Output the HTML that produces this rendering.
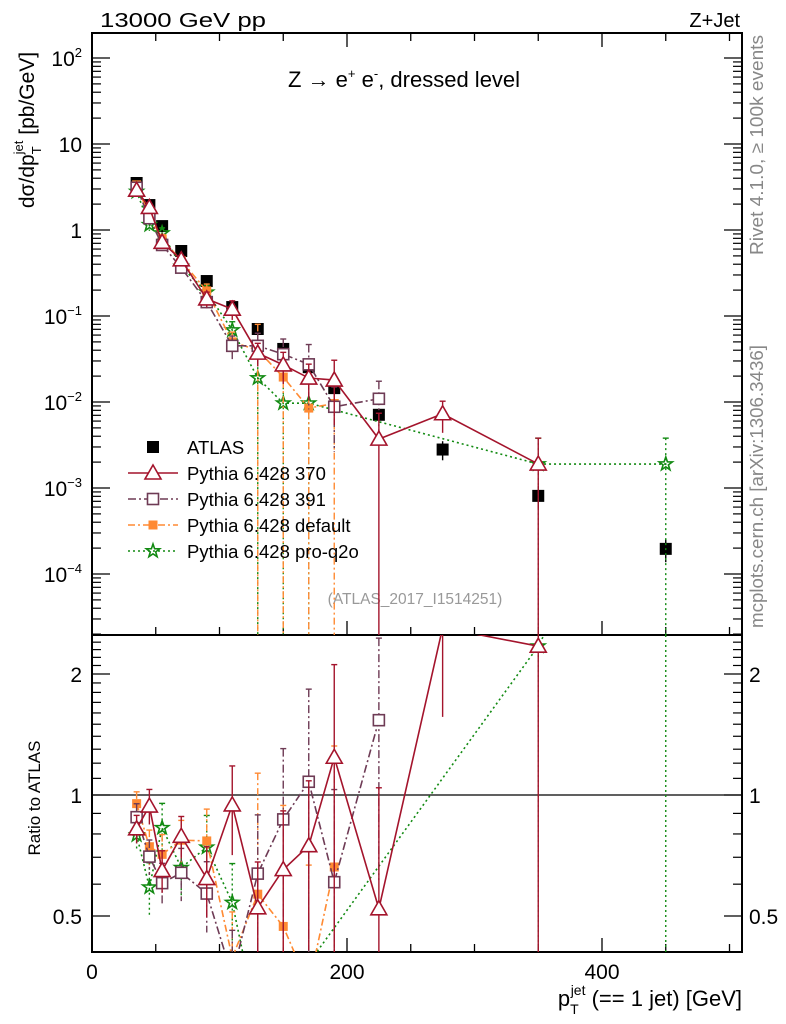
<!DOCTYPE html>
<html><head><meta charset="utf-8"><style>
html,body{margin:0;padding:0;background:#fff;overflow:hidden;}
svg{display:block;font-family:"Liberation Sans",sans-serif;}
</style></head><body>
<svg id="chart" width="786" height="1024" viewBox="0 0 786 1024" xmlns="http://www.w3.org/2000/svg">
<text x="100" y="27" font-size="20" textLength="166" lengthAdjust="spacingAndGlyphs">13000 GeV pp</text>
<text x="740" y="27" font-size="20" text-anchor="end">Z+Jet</text>
<text x="288" y="87" font-size="22">Z → e<tspan font-size="13" dy="-9">+</tspan><tspan dy="9"> e</tspan><tspan font-size="13" dy="-9">-</tspan><tspan dy="9">, dressed level</tspan></text>
<text transform="translate(34,130) rotate(-90)" font-size="21" text-anchor="middle">dσ/dp<tspan font-size="13" dy="7">T</tspan><tspan font-size="13" dx="-8" dy="-18">jet</tspan><tspan dy="11"> [pb/GeV]</tspan></text>
<text transform="translate(763,255) rotate(-90)" font-size="18" fill="#888" textLength="220" lengthAdjust="spacingAndGlyphs">Rivet 4.1.0, ≥ 100k events</text>
<text transform="translate(763,628) rotate(-90)" font-size="18" fill="#888" textLength="283" lengthAdjust="spacingAndGlyphs">mcplots.cern.ch [arXiv:1306.3436]</text>
<text x="415" y="604" font-size="15.5" fill="#999" text-anchor="middle">(ATLAS_2017_I1514251)</text>
<text transform="translate(40,798) rotate(-90)" font-size="17" text-anchor="middle">Ratio to ATLAS</text>
<text x="742" y="1006" font-size="22" text-anchor="end">p<tspan font-size="14" dy="8">T</tspan><tspan font-size="14" dx="-8" dy="-19">jet</tspan><tspan dy="11"> (== 1 jet) [GeV]</tspan></text>
<g id="plots"></g>
</svg>
<script>
const xBins = [35,45,55,70,90,110,130,150,170,190,225,275,350,450];
const atlas = [3.52,1.95,1.11,0.57,0.255,0.127,0.0706,0.0414,0.0254,0.0145,0.0071,0.0028,0.00081,0.000196];
const atlasErr = [0.05,0.05,0.05,0.05,0.06,0.07,0.08,0.09,0.1,0.12,0.15,0.25,0.3,0.3];
const p370 = [2.9,1.83,0.72,0.45,0.158,0.12,0.037,0.027,0.019,0.018,0.0037,0.0073,0.0019,null];
const p370Err = [0.08,0.1,0.12,0.12,0.2,0.25,0.3,0.4,0.45,0.7,1,0.4,1,null];
const p391 = [3.1,1.37,0.67,0.365,0.145,0.045,0.045,0.036,0.0274,0.0088,0.0109,null,null,null];
const p391Err = [0.08,0.1,0.12,0.15,0.2,0.3,0.4,0.5,0.7,0.7,0.6,null,null,null];
const pDef = [3.35,1.45,0.79,0.44,0.196,0.05,0.04,0.0195,0.0085,0.0096,null,null,null,null];
const pDefErr = [0.07,0.1,0.12,0.12,0.2,0.3,1,1,1,1,null,null,null,null];
const pPro = [2.8,1.15,0.92,0.376,0.189,0.0686,0.019,0.0097,0.0097,null,null,null,0.0019,0.0019];
const pProErr = [0.08,0.15,0.15,0.15,0.2,0.25,1,1,1,null,null,null,1,1];
const mainTicks = ["10<tspan font-size='13' dy='-9'>2</tspan>","10","1","10<tspan font-size='13' dy='-9'>−1</tspan>","10<tspan font-size='13' dy='-9'>−2</tspan>","10<tspan font-size='13' dy='-9'>−3</tspan>","10<tspan font-size='13' dy='-9'>−4</tspan>"];
const mainTickExp = [2,1,0,-1,-2,-3,-4];
const ratioTicks = [0.5,1,2];
const xTicks = [0,200,400];

const L=92,R=742,MT=33,MB=635,RB=952;
const X=v=>L+v*1.275;
const Y=v=>230-86*Math.log10(v);
const RY=v=>795-121*Math.log2(v);
const NS="http://www.w3.org/2000/svg";
const root=document.getElementById('plots');
function el(tag,attrs,parent){const e=document.createElementNS(NS,tag);for(const k in attrs)e.setAttribute(k,attrs[k]);(parent||root).appendChild(e);return e;}

const defs=el('defs',{});
const c1=el('clipPath',{id:'cm'},defs);el('rect',{x:L,y:MT,width:R-L,height:MB-MT},c1);
const c2=el('clipPath',{id:'cr'},defs);el('rect',{x:L,y:MB,width:R-L,height:RB-MB},c2);

const fr1=el('rect',{x:L,y:MT,width:R-L,height:MB-MT,fill:'none',stroke:'#000','stroke-width':2});


const fr2=el('rect',{x:L,y:MB,width:R-L,height:RB-MB,fill:'none',stroke:'#000','stroke-width':2});



for(let v=0;v<=500;v+=50){
  const major=v%200===0, len=major?14:8;
  el('line',{x1:X(v),x2:X(v),y1:MT,y2:MT+len,stroke:'#000','stroke-width':1.3});
  el('line',{x1:X(v),x2:X(v),y1:MB,y2:MB-len,stroke:'#000','stroke-width':1.3});
  el('line',{x1:X(v),x2:X(v),y1:RB,y2:RB-len,stroke:'#000','stroke-width':1.3});
}
xTicks.forEach(v=>{const t=el('text',{x:X(v),y:979,'font-size':21,'text-anchor':'middle'});t.textContent=v;

});

for(let e=-5;e<=2;e++){
  for(let m=1;m<10;m++){
    const y=Y(m*Math.pow(10,e)); if(y<MT||y>MB)continue;
    const len=m===1?18:9;
    el('line',{x1:L,x2:L+len,y1:y,y2:y,stroke:'#000','stroke-width':1.2});
    el('line',{x1:R,x2:R-len,y1:y,y2:y,stroke:'#000','stroke-width':1.2});
  }
}
mainTickExp.forEach((e,i)=>{const t=el('text',{x:e<0?82:82,y:Y(Math.pow(10,e))+8,'font-size':21,'text-anchor':'end'});t.innerHTML=mainTicks[i];

});

for(let v=0.4;v<=2.55;v+=0.1){const vv=Math.round(v*10)/10;const y=RY(vv);if(y<MB||y>RB)continue;
  const len=(vv===0.5||vv===1||vv===2)?18:9;
  el('line',{x1:L,x2:L+len,y1:y,y2:y,stroke:'#000','stroke-width':1.2});
  el('line',{x1:R,x2:R-len,y1:y,y2:y,stroke:'#000','stroke-width':1.2});}
ratioTicks.forEach(v=>{
  const a=el('text',{x:82,y:RY(v)+8,'font-size':21,'text-anchor':'end'});a.textContent=v;
  
  
  const b=el('text',{x:749,y:RY(v)+8,'font-size':21});b.textContent=v;
  
  
});
const one=el('line',{x1:L,x2:R,y1:RY(1),y2:RY(1),stroke:'#000','stroke-width':1.2});



function marker(g,type,x,y,color){
  if(type==='fsq')el('rect',{x:x-6,y:y-6,width:12,height:12,fill:color},g);
  else if(type==='osq')el('rect',{x:x-5.5,y:y-5.5,width:11,height:11,fill:'#fff',stroke:color,'stroke-width':1.6},g);
  else if(type==='ssq')el('rect',{x:x-4.5,y:y-4.5,width:9,height:9,fill:color},g);
  else if(type==='tri')el('path',{d:`M${x},${y-8}L${x+8},${y+6}L${x-8},${y+6}Z`,fill:'#fff',stroke:color,'stroke-width':1.6},g);
  else if(type==='star'){let d='';for(let i=0;i<10;i++){const r=i%2?2.8:7,a=-Math.PI/2+i*Math.PI/5;d+=(i?'L':'M')+(x+r*Math.cos(a)).toFixed(1)+','+(y+r*Math.sin(a)).toFixed(1);}el('path',{d:d+'Z',fill:'none',stroke:color,'stroke-width':1.6},g);}
}
const series=[
 {name:'pythia-370',vals:p370,err:p370Err,color:'#a4142c',dash:'',type:'tri'},
 {name:'pythia-391',vals:p391,err:p391Err,color:'#6e3b55',dash:'8,3,2,3',type:'osq'},
 {name:'pythia-default',vals:pDef,err:pDefErr,color:'#ff8a33',dash:'7,3,2,3',type:'ssq'},
 {name:'pythia-pro-q2o',vals:pPro,err:pProErr,color:'#128a12',dash:'2,3',type:'star'}
];
function drawSeries(s,ratio){
  const g=el('g',{'clip-path':ratio?'url(#cr)':'url(#cm)'});
  
  
  const fy=(v,i)=>ratio?RY(v/atlas[i]):Y(v);
  const bottom=ratio?RB:MB, top=ratio?MB:MT;
  const cl=y=>Math.max(top-20,Math.min(bottom+20,y));
  let pts=[];
  s.vals.forEach((v,i)=>{if(v!==null)pts.push([X(xBins[i]),fy(v,i)]);});
  el('polyline',{points:pts.map(p=>p.join(',')).join(' '),fill:'none',stroke:s.color,'stroke-width':1.6,'stroke-dasharray':s.dash},g);
  s.vals.forEach((v,i)=>{if(v===null)return;const e=s.err[i];const x=X(xBins[i]);
    const hi=cl(fy(v*(1+e),i)), lo=e>=0.99?bottom:cl(fy(v*(1-e),i));
    el('line',{x1:x,x2:x,y1:hi,y2:lo,stroke:s.color,'stroke-width':1.4,'stroke-dasharray':s.dash},g);
    el('line',{x1:x-3,x2:x+3,y1:hi,y2:hi,stroke:s.color,'stroke-width':1.4},g);
  });
  s.vals.forEach((v,i)=>{if(v===null)return;marker(g,s.type,X(xBins[i]),fy(v,i),s.color);});
  return g;
}
const ga=el('g',{'clip-path':'url(#cm)'});


atlas.forEach((v,i)=>{const x=X(xBins[i]);el('line',{x1:x,x2:x,y1:Y(v*(1+atlasErr[i])),y2:Y(v*(1-atlasErr[i])),stroke:'#000','stroke-width':1.4},ga);marker(ga,'fsq',x,Y(v),'#000');});
series.slice().reverse().forEach(s=>{drawSeries(s,false);drawSeries(s,true);});

const leg=el('g',{});


const legY=[447,473,499,525,551];
const legLabels=['ATLAS','Pythia 6.428 370','Pythia 6.428 391','Pythia 6.428 default','Pythia 6.428 pro-q2o'];
legLabels.forEach((lab,i)=>{
  const y=legY[i];
  if(i===0)marker(leg,'fsq',153,y,'#000');
  else{const s=series[i-1];el('line',{x1:128,x2:178,y1:y,y2:y,stroke:s.color,'stroke-width':1.6,'stroke-dasharray':s.dash},leg);marker(leg,s.type,153,y,s.color);}
  const t=el('text',{x:187,y:y+7,'font-size':18.5},leg);t.textContent=lab;
  
  
});
</script>
</body></html>
